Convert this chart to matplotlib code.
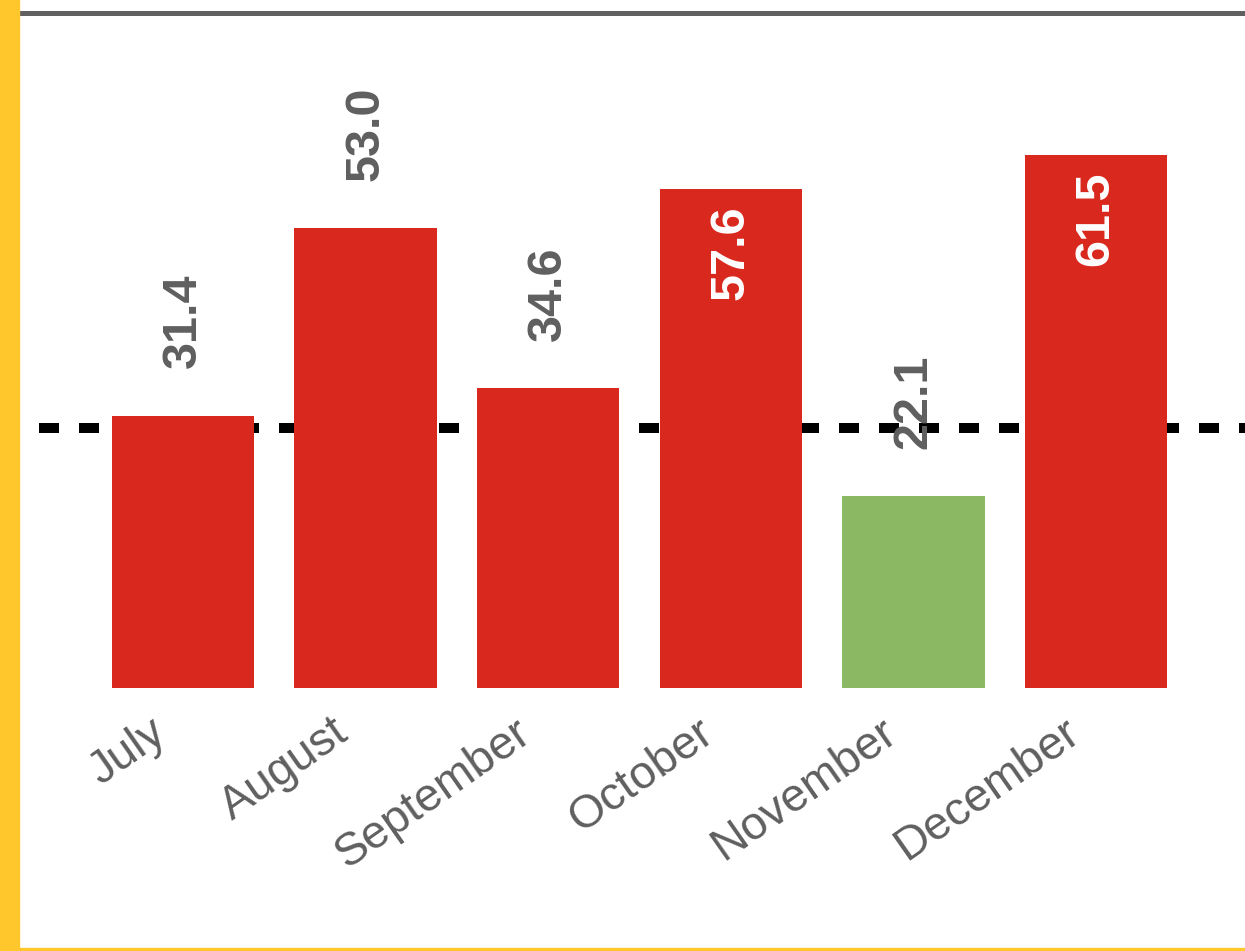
import matplotlib.pyplot as plt
from matplotlib.patches import Rectangle
from matplotlib.transforms import ScaledTranslation

months = ["July", "August", "September", "October", "November", "December"]
values = [31.4, 53.0, 34.6, 57.6, 22.1, 61.5]
target = 30

RED = "#d9291e"
GREEN = "#8bb863"
GREY = "#5f5f5f"
YELLOW = "#ffc72c"

plt.rcParams["font.family"] = ["Liberation Sans", "DejaVu Sans"]

fig = plt.figure(figsize=(12.45, 9.51), dpi=100)
ax = fig.add_axes([19 / 1245, 1 - 688 / 951, 1 - 19 / 1245, (688 - 12.5) / 951])

x = range(len(months))
colors = [GREEN if v < target else RED for v in values]
ax.bar(x, values, width=0.78, color=colors, zorder=3)

# target line, behind the bars
ax.axhline(target, color="black", lw=7.2, linestyle=(2, (2, 2)), zorder=2)

for i, v in enumerate(values):
    if v > 55:
        ax.annotate(f"{v:.1f}", (i, v), xytext=(0, -12), textcoords="offset points",
                    rotation=90, ha="center", va="top", color="white",
                    fontsize=35, fontweight="bold", zorder=4)
    else:
        ax.annotate(f"{v:.1f}", (i, v), xytext=(0, 34), textcoords="offset points",
                    rotation=90, ha="center", va="bottom", color=GREY,
                    fontsize=35, fontweight="bold", zorder=4)

ax.set_xlim(-0.898, 5.816)
ax.set_ylim(0, 77.9)
ax.set_xticks(list(x))
ax.set_xticklabels(months, rotation=35, ha="right", rotation_mode="anchor",
                   fontsize=33.5, color=GREY)
ax.tick_params(axis="x", length=0, pad=16)
shift = ScaledTranslation(-34 / 100, 0, fig.dpi_scale_trans)
for lbl in ax.get_xticklabels():
    lbl.set_transform(lbl.get_transform() + shift)
ax.set_yticks([])
for s in ["left", "right", "bottom"]:
    ax.spines[s].set_visible(False)
ax.spines["top"].set_color("#606060")
ax.spines["top"].set_linewidth(3.6)

# yellow frame on the left and bottom
fig.patches.append(Rectangle((0, 0), 19 / 1245, 1, transform=fig.transFigure,
                             color=YELLOW, zorder=0))
fig.patches.append(Rectangle((0, 0), 1, 3 / 951, transform=fig.transFigure,
                             color=YELLOW, zorder=0))

fig.savefig("out.png", dpi=100)
